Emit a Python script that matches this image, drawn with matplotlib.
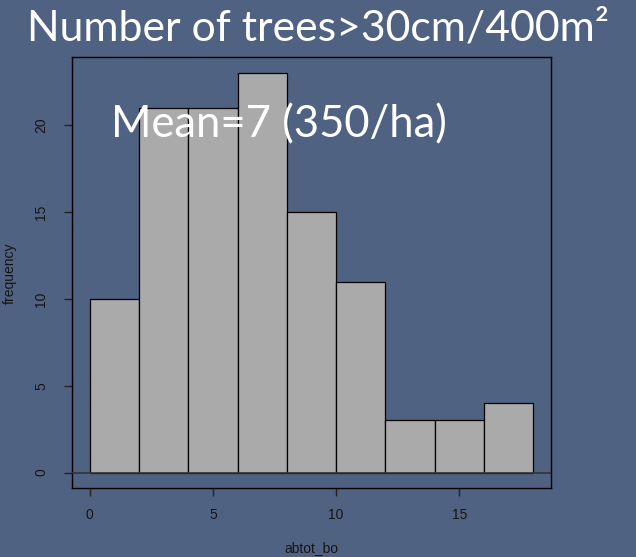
import matplotlib
matplotlib.use("Agg")
import matplotlib.pyplot as plt

# histogram of abtot_bo (bins of width 2)
bin_edges = [0, 2, 4, 6, 8, 10, 12, 14, 16, 18]
counts = [10, 21, 21, 23, 15, 11, 3, 3, 4]
x_ticks = [0, 5, 10, 15]
y_ticks = [0, 5, 10, 15, 20]

bg = '#506282'
dark = '#151515'

fig = plt.figure(figsize=(6.36, 5.57), dpi=100, facecolor=bg)
ax = fig.add_axes([0.1132, 0.123, 0.7532, 0.774], facecolor=bg)

ax.bar(bin_edges[:-1], counts, width=2, align='edge',
       color='#aaaaaa', edgecolor='black', linewidth=0.9, zorder=2)
ax.axhline(0, color='#333333', linewidth=1.2, zorder=3)

ax.set_xlim(-0.72, 18.72)
ax.set_ylim(-0.92, 23.92)
ax.set_xticks(x_ticks)
ax.set_yticks(y_ticks)

for s in ax.spines.values():
    s.set_color('black')
    s.set_linewidth(1.0)

ax.tick_params(direction='out', length=6, width=1, colors='#222222',
               labelcolor=dark, labelsize=10, labelfontfamily='Liberation Sans')
ax.tick_params(axis='x', pad=8)
ax.tick_params(axis='y', pad=11, labelrotation=90)
plt.setp(ax.get_yticklabels(), va='center')

ax.set_xlabel('abtot_bo', fontsize=10, color=dark, family='Liberation Sans', va='center')
ax.set_ylabel('frequency', fontsize=10, color=dark, family='Liberation Sans', va='center')
ax.xaxis.set_label_coords(0.5, -0.138)
ax.yaxis.set_label_coords(-0.129, 0.5)

fig.text(0.5, 0.927, 'Number of trees>30cm/400m²', ha='center', va='baseline',
         color='white', fontsize=30.8, family=['Lato', 'DejaVu Sans'])
fig.text(0.175, 0.753, 'Mean=7 (350/ha)', ha='left', va='baseline',
         color='white', fontsize=31.4, family=['Lato', 'DejaVu Sans'], zorder=5)

fig.savefig('out.png', dpi=100, facecolor=bg)
